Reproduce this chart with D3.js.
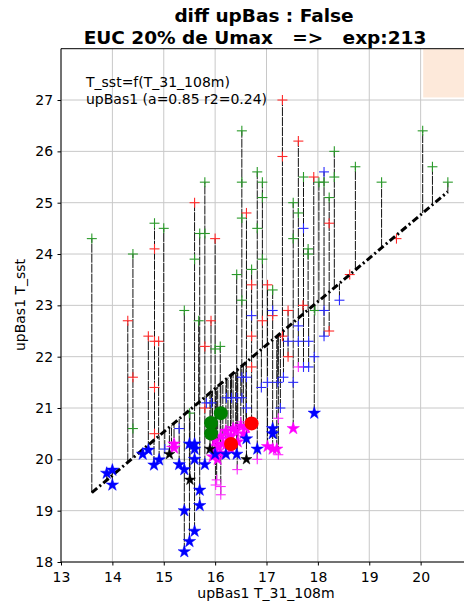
<!DOCTYPE html>
<html>
<head>
<meta charset="utf-8">
<script src="https://cdn.jsdelivr.net/npm/d3@7"></script>
<style>
  body { margin: 0; background: #fff; }
  svg { display: block; font-family: "DejaVu Sans", sans-serif; }
</style>
</head>
<body>
<div id="chart"></div>
<script>
// data: [T_31_108m, T_sst]
var greenPlus = [[13.6,24.3],[14.4,24.0],[14.4,20.6],[14.82,24.6],[15.0,24.5],[15.4,22.9],[15.5,20.9],
  [15.6,23.9],[15.68,22.7],[15.7,24.4],[15.8,25.4],[15.8,24.4],[16.0,22.15],[16.1,22.2],[16.42,23.6],
  [16.52,26.4],[16.52,25.4],[16.52,24.7],[16.52,23.1],[16.71,23.7],[16.82,25.6],[16.82,24.5],
  [16.92,25.4],[16.92,25.1],[16.92,23.9],[17.12,23.3],[17.52,25.0],[17.52,24.3],[17.62,24.8],
  [17.72,25.5],[17.81,24.1],[17.81,24.0],[17.94,22.9],[18.02,25.4],[18.12,25.4],[18.22,25.1],
  [18.32,26.0],[18.32,25.5],[18.73,25.7],[19.24,25.4],[20.04,26.4],[20.23,25.7],[20.53,25.4]];
var redPlus = [[14.3,22.7],[14.4,21.6],[14.7,22.4],[14.82,24.1],[14.82,22.3],[14.82,21.4],[14.82,20.5],
  [14.9,22.3],[15.6,25.0],[15.8,22.2],[15.8,21.0],[15.92,22.7],[16.0,24.3],[16.61,24.8],[16.71,23.4],
  [16.71,22.4],[16.71,21.8],[16.92,22.7],[17.02,23.4],[17.12,22.8],[17.31,27.0],[17.31,25.9],
  [17.31,22.4],[17.42,22.9],[17.42,22.0],[17.62,26.2],[17.71,23.0],[17.92,25.5],[18.22,24.6],
  [18.22,22.5],[18.62,23.6],[19.53,24.3]];
var bluePlus = [[15.02,20.2],[15.3,20.6],[15.83,21.1],[15.93,21.1],[16.22,21.2],[16.32,21.2],
  [16.42,21.2],[16.52,21.2],[16.52,21.6],[16.61,21.6],[16.61,21.0],[16.71,22.8],[16.9,21.4],
  [17.02,21.5],[17.12,22.9],[17.22,21.5],[17.27,21.0],[17.33,21.6],[17.42,22.3],[17.52,21.5],
  [17.62,22.6],[17.62,22.3],[17.72,24.5],[17.72,21.8],[17.82,22.3],[17.82,21.8],[17.93,22.0],
  [18.12,25.6],[18.12,22.9],[18.12,22.4],[18.42,23.1]];
var magentaPlus = [[15.15,20.25],[16.01,19.5],[16.03,19.6],[16.11,19.47],[16.11,19.31],[16.43,19.8],
  [16.5,20.73],[16.82,20.0],[17.23,20.8],[17.23,20.09],[17.62,21.8]];
var blueStar = [[13.89,19.73],[14.0,19.79],[14.0,19.5],[14.59,20.1],[14.7,20.18],[14.81,19.89],
  [14.91,19.99],[15.3,19.9],[15.4,19.8],[15.4,19.0],[15.4,18.2],[15.5,20.3],[15.5,18.4],[15.6,20.3],
  [15.6,20.2],[15.6,20.0],[15.6,18.6],[15.7,19.4],[15.7,19.1],[15.8,19.9],[16.0,20.1],[16.21,20.1],
  [16.42,20.1],[16.61,20.4],[16.82,20.2],[17.12,20.6],[17.12,20.5],[17.93,20.9]];
var blackStar = [[15.11,20.1],[15.51,19.6],[15.9,20.2],[16.61,20.0]];
var magentaStar = [[15.2,20.3],[15.2,20.22],[15.95,20.05],[16.05,20.0],[16.1,20.12],[16.0,20.36],
  [16.05,20.25],[16.11,20.45],[16.15,20.3],[16.21,20.55],[16.21,20.28],[16.25,20.4],[16.31,20.45],
  [16.35,20.6],[16.3,20.2],[16.4,20.55],[16.44,20.34],[16.5,20.65],[16.55,20.5],[16.6,20.62],
  [16.0,20.18],[17.02,20.25],[17.12,20.2],[17.2,20.2],[17.52,20.6]];
var greenCircle = [[15.92,20.5],[15.92,20.71],[16.11,20.9]];
var redCircle = [[16.31,20.3],[16.71,20.7]];
// fit: T_sst = a*T + b over the data range
var fitA = 0.846, fitB = 19.35 - 0.846 * 13.6;
var fitRange = [13.6, 20.53];
var xTicks = [13, 14, 15, 16, 17, 18, 19, 20];
var yTicks = [18, 19, 20, 21, 22, 23, 24, 25, 26, 27];

var W = 464, H = 607;
var svg = d3.select("#chart").append("svg").attr("width", W).attr("height", H);

var x = d3.scaleLinear().domain([13, 21]).range([61, 472]);
var y = d3.scaleLinear().domain([18, 28]).range([562, 48.7]);
function fit(v) { return fitA * v + fitB; }

// background box top right
svg.append("rect").attr("x", x(20.05)).attr("y", y(28)).attr("width", 60).attr("height", y(27.05) - y(28))
  .attr("fill", "#fde9da");

// grid
svg.append("g").selectAll("line").data(xTicks).enter().append("line")
  .attr("x1", d => x(d)).attr("x2", d => x(d)).attr("y1", y(18)).attr("y2", y(28))
  .attr("stroke", "#c8c8c8").attr("stroke-width", 1);
svg.append("g").selectAll("line").data(yTicks).enter().append("line")
  .attr("x1", x(13)).attr("x2", x(21)).attr("y1", d => y(d)).attr("y2", d => y(d))
  .attr("stroke", "#c8c8c8").attr("stroke-width", 1);

// vertical lines: one per column, from the lowest to the highest value, fit included
var all = [].concat(greenPlus, redPlus, bluePlus, magentaPlus, blueStar, blackStar, magentaStar, greenCircle, redCircle);
var cols = d3.rollups(all, v => v.map(d => d[1]), d => d[0]);
svg.append("g").selectAll("line").data(cols).enter().append("line")
  .attr("x1", d => x(d[0])).attr("x2", d => x(d[0]))
  .attr("y1", d => y(Math.min(d3.min(d[1]), fit(d[0]))))
  .attr("y2", d => y(Math.max(d3.max(d[1]), fit(d[0]))))
  .attr("stroke", "#111").attr("stroke-width", 1).attr("stroke-dasharray", "9,1");

function plus(data, color) {
  var g = svg.append("g").attr("stroke", color).attr("stroke-width", 1.1);
  data.forEach(function (d) {
    var cx = x(d[0]), cy = y(d[1]);
    g.append("line").attr("x1", cx - 5).attr("x2", cx + 5).attr("y1", cy).attr("y2", cy);
    g.append("line").attr("x1", cx).attr("x2", cx).attr("y1", cy - 5).attr("y2", cy + 5);
  });
}
plus(greenPlus, "#2a9a2a");
plus(redPlus, "#ff2a2a");
plus(bluePlus, "#2a2aff");
plus(magentaPlus, "#ff2aff");

// regression line
svg.append("line")
  .attr("x1", x(fitRange[0])).attr("y1", y(fit(fitRange[0])))
  .attr("x2", x(fitRange[1])).attr("y2", y(fit(fitRange[1])))
  .attr("stroke", "#000").attr("stroke-width", 3).attr("stroke-dasharray", "7,3,2,3");

function stars(data, color, size) {
  svg.append("g").selectAll("path").data(data).enter().append("path")
    .attr("d", d3.symbol().type(d3.symbolStar).size(size))
    .attr("transform", d => "translate(" + x(d[0]) + "," + y(d[1]) + ")")
    .attr("fill", color).attr("stroke", color).attr("stroke-width", 0.5);
}
stars(magentaStar, "#ff00ff", 48);
stars(blueStar, "#0000ff", 48);
stars(blackStar, "#000", 38);

function circles(data, color) {
  svg.append("g").selectAll("circle").data(data).enter().append("circle")
    .attr("cx", d => x(d[0])).attr("cy", d => y(d[1])).attr("r", 7).attr("fill", color);
}
circles(greenCircle, "#008000");
circles(redCircle, "#ff0000");

// spines
svg.append("line").attr("x1", x(13)).attr("x2", x(13)).attr("y1", y(18)).attr("y2", y(28)).attr("stroke", "#000");
svg.append("line").attr("x1", x(13)).attr("x2", x(21)).attr("y1", y(18)).attr("y2", y(18)).attr("stroke", "#000");
svg.append("line").attr("x1", x(13)).attr("x2", x(21)).attr("y1", y(28)).attr("y2", y(28)).attr("stroke", "#000");

// axes
var xAxis = d3.axisBottom(x).tickValues(xTicks).tickSize(3.5).tickFormat(d3.format("d"));
var yAxis = d3.axisLeft(y).tickValues(yTicks).tickSize(3.5).tickFormat(d3.format("d"));
var xg = svg.append("g").attr("transform", "translate(0," + y(18) + ")").call(xAxis);
var yg = svg.append("g").attr("transform", "translate(" + x(13) + ",0)").call(yAxis);
[xg, yg].forEach(function (g) {
  g.select(".domain").remove();
  g.selectAll("text").attr("font-size", 14).attr("font-family", "DejaVu Sans").attr("fill", "#000");
});
xg.selectAll("text").attr("dy", "0.95em");
yg.selectAll("text").attr("dx", "-0.1em");

// labels
svg.append("text").attr("x", 266).attr("y", 598).attr("text-anchor", "middle").attr("font-size", 14)
  .text("upBas1 T_31_108m");
svg.append("text").attr("transform", "translate(25,305) rotate(-90)").attr("text-anchor", "middle")
  .attr("font-size", 14).text("upBas1 T_sst");

svg.append("text").attr("x", 264).attr("y", 22).attr("text-anchor", "middle").attr("font-size", 18.5)
  .attr("font-weight", "bold").text("diff upBas : False");
svg.append("text").attr("x", 255).attr("y", 44).attr("text-anchor", "middle").attr("font-size", 18.5)
  .attr("font-weight", "bold").attr("xml:space", "preserve").style("white-space", "pre")
  .text("EUC 20% de Umax   =>   exp:213");

svg.append("text").attr("x", 86).attr("y", 87).attr("font-size", 14).text("T_sst=f(T_31_108m)");
svg.append("text").attr("x", 86).attr("y", 104).attr("font-size", 14).text("upBas1 (a=0.85 r2=0.24)");
</script>
</body>
</html>
